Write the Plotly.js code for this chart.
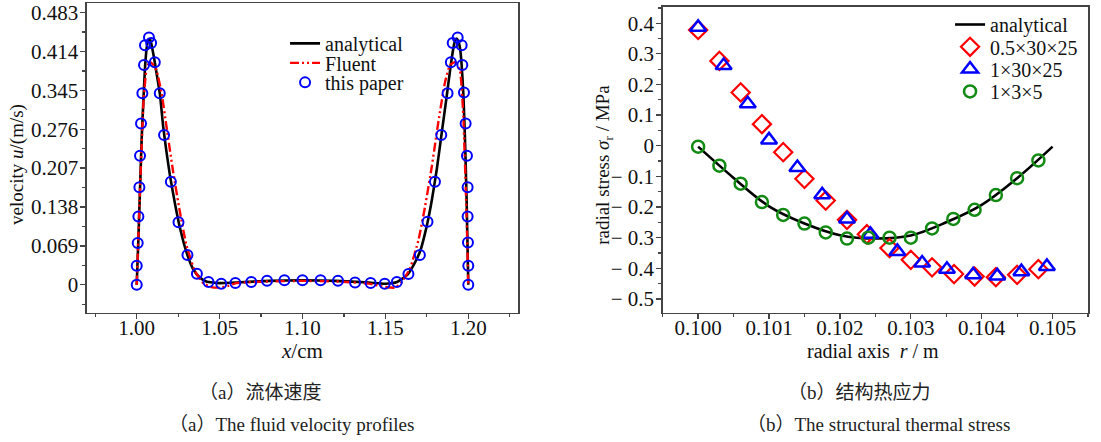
<!DOCTYPE html>
<html>
<head>
<meta charset="utf-8">
<script src="https://cdn.plot.ly/plotly-3.0.1.min.js"></script>
<style>html,body{margin:0;padding:0;background:#fff;}#chart{width:1101px;height:442px;}</style>
</head>
<body>
<div id="chart"></div>
<script>
// ---------- (a) fluid velocity ----------
const anaX_a = [1.000,1.001,1.002,1.003,1.004,1.005,1.006,1.007,1.008,1.009,1.010,1.011,1.012,1.014,1.016,1.018,1.020,1.023,1.026,1.030,1.034,1.038,1.042,1.046,1.050,1.060,1.080,1.100,1.120,1.140,1.150,1.157,1.163,1.167,1.171,1.175,1.178,1.181,1.184,1.187,1.189,1.191,1.192,1.193,1.194,1.195,1.196,1.197,1.198,1.199,1.200];
const anaY_a = [0,0.08,0.17,0.26,0.325,0.385,0.42,0.435,0.436,0.425,0.41,0.393,0.375,0.338,0.28,0.235,0.195,0.145,0.102,0.058,0.028,0.013,0.006,0.004,0.003,0.004,0.007,0.008,0.007,0.004,0.002,0.005,0.017,0.035,0.06,0.105,0.15,0.205,0.27,0.335,0.38,0.42,0.433,0.437,0.432,0.42,0.39,0.34,0.26,0.15,0];
const fluX = [1.000,1.002,1.004,1.006,1.008,1.010,1.012,1.015,1.018,1.022,1.026,1.030,1.035,1.040,1.045,1.050,1.055,1.060,1.080,1.100,1.120,1.140,1.150,1.156,1.160,1.165,1.170,1.174,1.178,1.182,1.186,1.189,1.192,1.195,1.197,1.199,1.200];
const fluY = [0,0.17,0.32,0.385,0.395,0.39,0.38,0.34,0.28,0.2,0.13,0.07,0.025,0.003,-0.004,-0.005,-0.002,0.003,0.006,0.007,0.006,0.002,-0.004,-0.005,0.005,0.03,0.08,0.14,0.21,0.29,0.36,0.39,0.395,0.38,0.30,0.12,0];
const papX = [1.000,1.000,1.0006,1.001,1.0016,1.002,1.0026,1.0034,1.0044,1.005,1.0074,1.0087,1.0109,1.0139,1.0165,1.0206,1.0252,1.0306,1.0363,1.0433,1.051,1.0595,1.0691,1.0786,1.0891,1.100,1.1109,1.1214,1.1317,1.1411,1.1496,1.1569,1.1639,1.1708,1.1754,1.1799,1.1837,1.1875,1.1895,1.1906,1.1936,1.196,1.1964,1.1974,1.1984,1.1992,1.1996,1.1996,1.1998,1.2000,1.2000];
const papY = [0,0.034,0.074,0.121,0.173,0.229,0.286,0.340,0.390,0.425,0.439,0.429,0.395,0.340,0.266,0.183,0.111,0.053,0.0195,0.005,0.002,0.003,0.005,0.007,0.008,0.008,0.008,0.007,0.004,0.003,0.002,0.005,0.019,0.053,0.112,0.183,0.266,0.340,0.395,0.429,0.439,0.425,0.390,0.341,0.286,0.229,0.173,0.121,0.075,0.034,0];
const xTicks_a = [1.00,1.05,1.10,1.15,1.20];
const xTickText_a = ["1.00","1.05","1.10","1.15","1.20"];
const yTicks_a = [0,0.069,0.138,0.207,0.276,0.345,0.414,0.483];
const yTickText_a = ["0","0.069","0.138","0.207","0.276","0.345","0.414","0.483"];
const names_a = ["analytical","Fluent","this paper"];

// ---------- (b) thermal stress ----------
const anaR = [0.1000,0.1005,0.1010,0.1015,0.1020,0.1025,0.1030,0.1035,0.1040,0.1045,0.1050];
const anaS = [-0.003,-0.105,-0.198,-0.254,-0.292,-0.303,-0.293,-0.250,-0.193,-0.106,-0.003];
const m1R = [0.1000,0.1003,0.1006,0.1009,0.1012,0.1015,0.1018,0.1021,0.10238,0.1027,0.1030,0.1033,0.10361,0.1039,0.1042,0.1045,0.1048];
const m1S = [0.378,0.277,0.174,0.0705,-0.021,-0.108,-0.179,-0.242,-0.289,-0.334,-0.3725,-0.397,-0.419,-0.427,-0.429,-0.4215,-0.403];
const m2R = [0.1000,0.10036,0.1007,0.1010,0.1014,0.10175,0.1021,0.10243,0.10281,0.10316,0.10351,0.10388,0.10422,0.10456,0.10492];
const m2S = [0.387,0.262,0.137,0.019,-0.071,-0.160,-0.239,-0.289,-0.345,-0.383,-0.403,-0.421,-0.425,-0.411,-0.394];
const m3R = [0.1000,0.1003,0.1006,0.1009,0.1012,0.1015,0.1018,0.1021,0.1024,0.1027,0.1030,0.1033,0.1036,0.1039,0.1042,0.1045,0.1048];
const m3S = [-0.003,-0.065,-0.124,-0.184,-0.226,-0.254,-0.283,-0.303,-0.300,-0.300,-0.300,-0.270,-0.239,-0.209,-0.161,-0.106,-0.048];
const xTicks_b = [0.100,0.101,0.102,0.103,0.104,0.105];
const xTickText_b = ["0.100","0.101","0.102","0.103","0.104","0.105"];
const yTicks_b = [-0.5,-0.4,-0.3,-0.2,-0.1,0,0.1,0.2,0.3,0.4];
const yTickText_b = ["\u2212 0.5","\u2212 0.4","\u2212 0.3","\u2212 0.2","\u2212 0.1","0","0.1","0.2","0.3","0.4"];
const names_b = ["analytical","0.5\u00d730\u00d725","1\u00d730\u00d725","1\u00d73\u00d75"];

const FONT = "Liberation Serif";
const CJK = "Liberation Serif, Noto Sans CJK SC";

const traces = [
  {x: anaX_a, y: anaY_a, name: names_a[0], mode: "lines", line: {color: "#000", width: 2.6, shape: "spline", smoothing: 0.5}, xaxis: "x", yaxis: "y", legend: "legend"},
  {x: fluX, y: fluY, name: names_a[1], mode: "lines", line: {color: "#ff0000", width: 2.4, dash: "9px,3px,2px,3px,2px,3px", shape: "spline", smoothing: 0.4}, xaxis: "x", yaxis: "y", legend: "legend"},
  {x: papX, y: papY, name: names_a[2], mode: "markers", marker: {symbol: "circle-open", size: 10, color: "#0000ff", line: {width: 2, color: "#0000ff"}}, xaxis: "x", yaxis: "y", legend: "legend"},
  {x: anaR, y: anaS, name: names_b[0], mode: "lines", line: {color: "#000", width: 2.6, shape: "spline", smoothing: 1}, xaxis: "x2", yaxis: "y2", legend: "legend2"},
  {x: m1R, y: m1S, name: names_b[1], mode: "markers", marker: {symbol: "diamond-open", size: 14, color: "#ff0000", line: {width: 2.2, color: "#ff0000"}}, xaxis: "x2", yaxis: "y2", legend: "legend2"},
  {x: m2R, y: m2S, name: names_b[2], mode: "markers", marker: {symbol: "triangle-up-open", size: 14, color: "#0000ff", line: {width: 2.5, color: "#0000ff"}}, xaxis: "x2", yaxis: "y2", legend: "legend2"},
  {x: m3R, y: m3S, name: names_b[3], mode: "markers", marker: {symbol: "circle-open", size: 12, color: "#138a13", line: {width: 2.5, color: "#138a13"}}, xaxis: "x2", yaxis: "y2", legend: "legend2"}
];

const axBase = {showline: true, mirror: true, linecolor: "#444", linewidth: 1.5, showgrid: false, zeroline: false,
  ticks: "outside", ticklen: 5, tickwidth: 1.3, tickcolor: "#444", tickmode: "array",
  tickfont: {family: FONT, size: 21, color: "#111"}};
const minorBase = {ticks: "outside", ticklen: 3, tickwidth: 1.2, tickcolor: "#444", tickmode: "linear"};

const layout = {
  width: 1101, height: 442,
  margin: {l: 0, r: 0, t: 0, b: 0},
  paper_bgcolor: "#fff", plot_bgcolor: "#fff",
  showlegend: true,
  font: {family: FONT, color: "#111"},
  xaxis: Object.assign({}, axBase, {domain: [0.0790, 0.4705], anchor: "y", range: [0.97, 1.23], tickvals: xTicks_a, ticktext: xTickText_a, ticklabelstandoff: -10,
    minor: Object.assign({}, minorBase, {tick0: 0.975, dtick: 0.025})}),
  yaxis: Object.assign({}, axBase, {domain: [0.2919, 0.9932], anchor: "x", range: [-0.05, 0.50], tickvals: yTicks_a, ticktext: yTickText_a, ticklabelstandoff: -2,
    minor: Object.assign({}, minorBase, {tick0: -0.0345, dtick: 0.0345})}),
  xaxis2: Object.assign({}, axBase, {domain: [0.6019, 0.9882], anchor: "y2", range: [0.0995, 0.1055], tickvals: xTicks_b, ticktext: xTickText_b, ticklabelstandoff: -10,
    minor: Object.assign({}, minorBase, {tick0: 0.0995, dtick: 0.0005})}),
  yaxis2: Object.assign({}, axBase, {domain: [0.2919, 0.9842], anchor: "x2", range: [-0.546, 0.453], tickvals: yTicks_b, ticktext: yTickText_b, ticklabelstandoff: -2,
    minor: Object.assign({}, minorBase, {tick0: -0.55, dtick: 0.05})}),
  legend: {x: 0.2589, y: 0.946, xanchor: "left", yanchor: "top", bgcolor: "rgba(0,0,0,0)", borderwidth: 0,
    font: {family: FONT, size: 20, color: "#111"}, tracegroupgap: 0},
  legend2: {x: 0.8629, y: 0.9887, xanchor: "left", yanchor: "top", bgcolor: "rgba(0,0,0,0)", borderwidth: 0,
    font: {family: FONT, size: 20, color: "#111"}, tracegroupgap: 0},
  annotations: [
    {text: "<i>x</i>/cm", xref: "paper", yref: "paper", x: 0.2747, y: 0.2065, xanchor: "center", yanchor: "middle", showarrow: false, font: {family: FONT, size: 21, color: "#111"}},
    {text: "radial axis  <i>r</i> / m", xref: "paper", yref: "paper", x: 0.7925, y: 0.2065, xanchor: "center", yanchor: "middle", showarrow: false, font: {family: FONT, size: 20, color: "#111"}},
    {text: "velocity <i>u</i>/(m/s)", xref: "paper", yref: "paper", x: 0.0155, y: 0.627, xanchor: "center", yanchor: "middle", textangle: -90, showarrow: false, font: {family: FONT, size: 19, color: "#111"}},
    {text: "radial stress <i>σ</i><sub>r</sub> / MPa", xref: "paper", yref: "paper", x: 0.5486, y: 0.627, xanchor: "center", yanchor: "middle", textangle: -90, showarrow: false, font: {family: FONT, size: 19, color: "#111"}},
    {text: "（a）流体速度", xref: "paper", yref: "paper", x: 0.2361, y: 0.1131, xanchor: "center", yanchor: "middle", showarrow: false, font: {family: CJK, size: 19, color: "#222"}},
    {text: "（a）The fluid velocity profiles", xref: "paper", yref: "paper", x: 0.2652, y: 0.0407, xanchor: "center", yanchor: "middle", showarrow: false, font: {family: CJK, size: 19, color: "#222"}},
    {text: "（b）结构热应力", xref: "paper", yref: "paper", x: 0.7811, y: 0.1131, xanchor: "center", yanchor: "middle", showarrow: false, font: {family: CJK, size: 19, color: "#222"}},
    {text: "（b）The structural thermal stress", xref: "paper", yref: "paper", x: 0.7975, y: 0.0407, xanchor: "center", yanchor: "middle", showarrow: false, font: {family: CJK, size: 19, color: "#222"}}
  ]
};

const legendSpacing = {legend: 19.5, legend2: 22.3};

Plotly.newPlot("chart", traces, layout, {staticPlot: true, displayModeBar: false}).then(function (gd) {
  Object.keys(legendSpacing).forEach(function (id) {
    const lg = gd.querySelector("g." + id);
    if (!lg) return;
    const items = lg.querySelectorAll("g.traces");
    let y0 = null;
    items.forEach(function (it, i) {
      const m = /translate\(\s*([-\d.e]+)[ ,]+([-\d.e]+)\s*\)/.exec(it.getAttribute("transform") || "");
      if (!m) return;
      if (y0 === null) y0 = parseFloat(m[2]);
      it.setAttribute("transform", "translate(" + m[1] + "," + (y0 + i * legendSpacing[id]) + ")");
    });
  });
});
</script>
</body>
</html>
